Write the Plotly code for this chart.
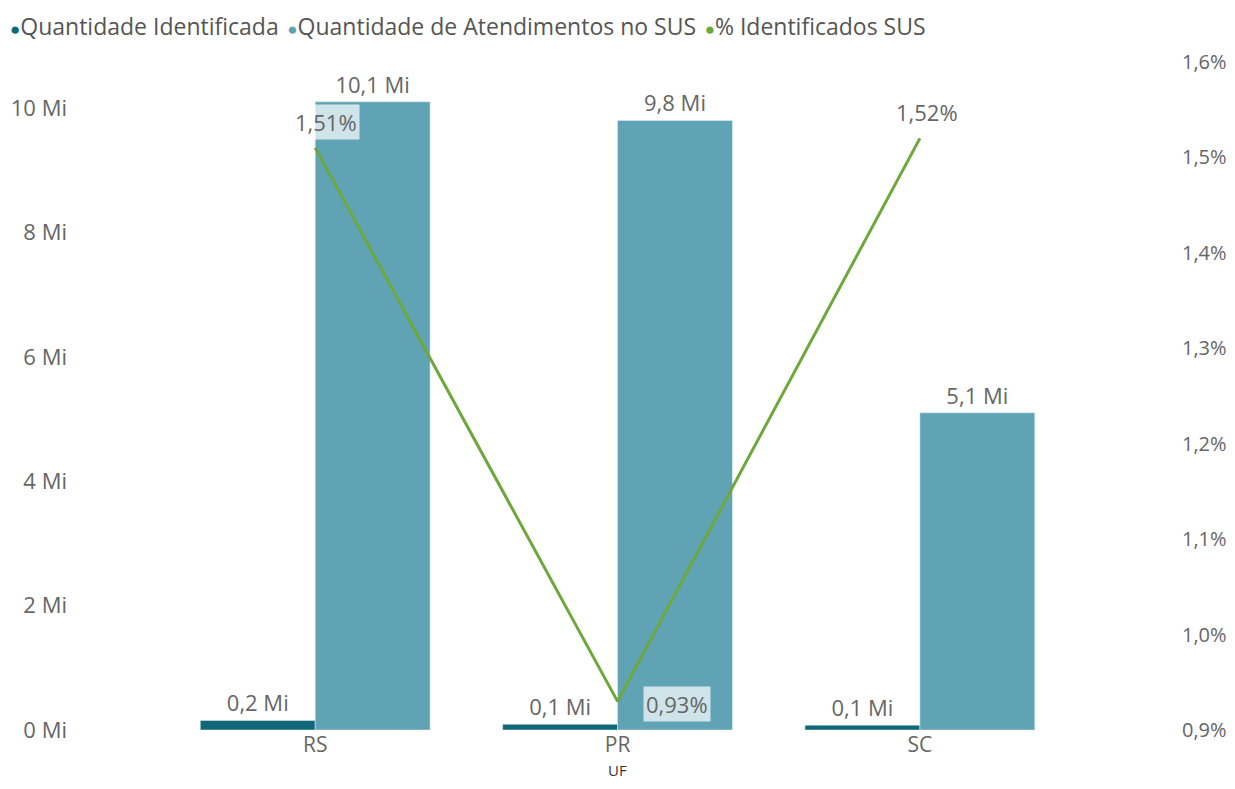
import plotly.graph_objects as go

categories = ["RS", "PR", "SC"]
qtd_identificada = [0.153, 0.091, 0.078]      # Mi
qtd_atendimentos = [10.1, 9.8, 5.1]           # Mi
pct_identificados = [1.51, 0.93, 1.52]        # %

series_names = ["Quantidade Identificada", "Quantidade de Atendimentos no SUS", "% Identificados SUS"]
left_ticks = [0, 2, 4, 6, 8, 10]
right_ticks = [0.9, 1.0, 1.1, 1.2, 1.3, 1.4, 1.5, 1.6]

c_dark = "#0f6778"
c_teal = "#60a3b5"
c_green = "#6fa83a"
c_text = "#666666"
FONT = "Open Sans, Noto Sans, sans-serif"
FS = 22

# the page body adds an 8px margin, so the figure is drawn 16px smaller
W, H = 1219, 773
L, R, T, B = 59, 46, 54, 51
PH = H - T - B
DOM = [0.0871, 0.9013]


def mi(v):
    return f"{v:.1f}".replace(".", ",") + " Mi"


def pct(v):
    return f"{v:.2f}".replace(".", ",") + "%"


fig = go.Figure()
fig.add_trace(go.Bar(
    x=categories, y=qtd_identificada, name=series_names[0],
    marker_color=c_dark, text=[mi(v) for v in qtd_identificada],
    textposition="outside", textfont=dict(color=c_text, size=FS),
    cliponaxis=False, showlegend=False,
))
fig.add_trace(go.Bar(
    x=categories, y=qtd_atendimentos, name=series_names[1],
    marker_color=c_teal, text=[mi(v) for v in qtd_atendimentos],
    textposition="outside", textfont=dict(color=c_text, size=FS),
    cliponaxis=False, showlegend=False,
))
fig.add_trace(go.Scatter(
    x=categories, y=pct_identificados, name=series_names[2],
    mode="lines", line=dict(color=c_green, width=3), yaxis="y2",
    showlegend=False,
))

# legend drawn as a text line with coloured dots
legend_cols = [c_dark, c_teal, c_green]
legend_text = " <span style='font-size:10px'>&nbsp;</span>".join(
    f"<span style='color:{c};font-size:17px'>●</span>{n}"
    for n, c in zip(series_names, legend_cols)
)
fig.add_annotation(
    xref="paper", yref="paper", x=(0 - L) / (W - L - R), y=1.0 + 36 / PH,
    xanchor="left", yanchor="middle", showarrow=False,
    text=legend_text, font=dict(size=23, color="#555555", family=FONT),
)

# axis title
fig.add_annotation(
    xref="paper", yref="paper", x=0.5 * (DOM[0] + DOM[1]), y=-B / PH,
    xanchor="center", yanchor="bottom", showarrow=False, borderpad=0,
    text="UF", font=dict(size=15, color="#333333", family=FONT),
)

# percentage labels
label_cfg = [(11, 8, "bottom", True), (59, -3, "middle", True), (7, 8, "bottom", False)]
for cat, v, (dx, dy, ya, box) in zip(categories, pct_identificados, label_cfg):
    fig.add_annotation(
        x=cat, y=v, yref="y2", text=pct(v), showarrow=False,
        xshift=dx, yshift=dy, yanchor=ya,
        font=dict(color=c_text, size=FS, family=FONT),
        bgcolor="rgba(255,255,255,0.7)" if box else "rgba(0,0,0,0)",
        borderpad=2,
    )

fig.update_layout(
    width=W, height=H,
    margin=dict(l=L, r=R, t=T, b=B, autoexpand=False),
    paper_bgcolor="white", plot_bgcolor="white",
    font=dict(family=FONT, color=c_text, size=FS),
    separators=",.",
    barmode="group", bargap=0.24, bargroupgap=0,
    showlegend=False,
    xaxis=dict(domain=DOM, showgrid=False, showline=False, ticklabelstandoff=0,
               ticks="", tickfont=dict(size=21, color=c_text), automargin=False),
    yaxis=dict(range=[0, 10.74], tickvals=left_ticks,
               ticktext=[f"{t} Mi" for t in left_ticks],
               showgrid=False, zeroline=False, showline=False, automargin=False,
               anchor="free", position=0, tickfont=dict(size=FS, color=c_text)),
    yaxis2=dict(range=[0.9, 1.6], tickvals=right_ticks,
                ticktext=[f"{t:.1f}".replace(".", ",") + "%" for t in right_ticks],
                overlaying="y", side="right", anchor="free", position=1,
                showgrid=False, zeroline=False, showline=False, automargin=False,
                tickfont=dict(size=20, color=c_text)),
)

fig.write_html("out.html")
